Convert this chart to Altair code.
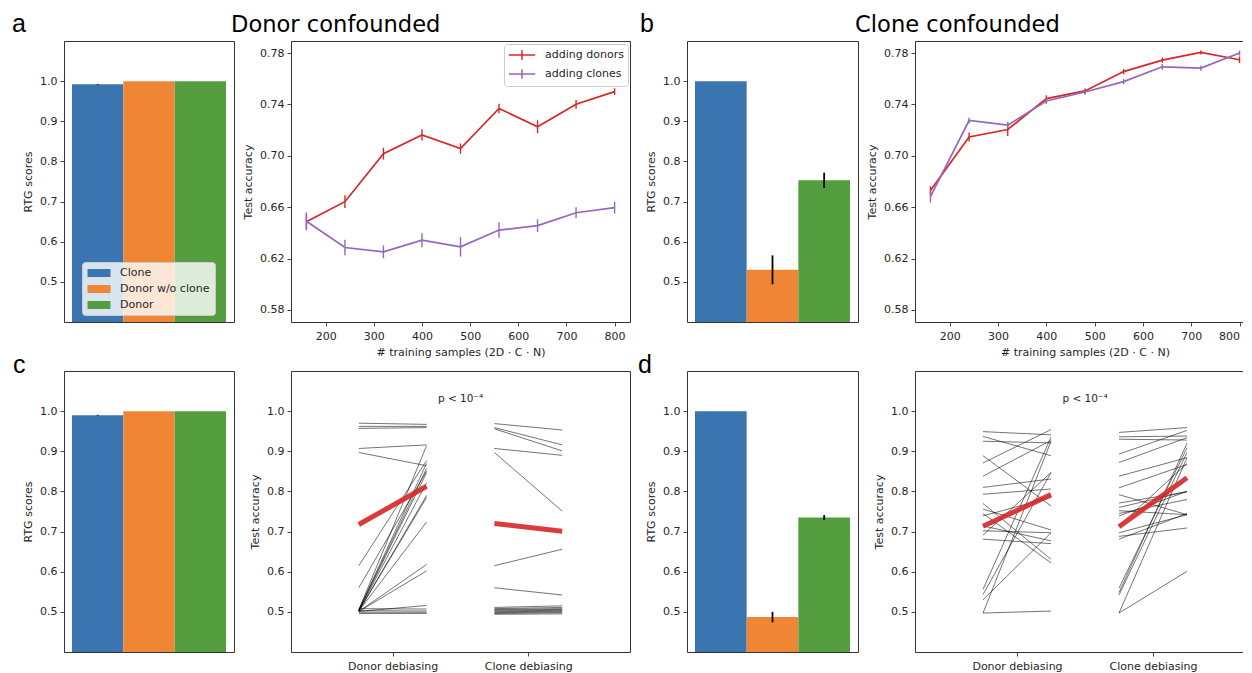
import altair as alt
import pandas as pd

FONT = "DejaVu Sans"
LETTER_FONT = "Liberation Sans"
TXT = "#262626"

# ---------------- bar panels (RTG scores) ----------------
BAR_CATS = ["Clone", "Donor w/o clone", "Donor"]
BAR_COLORS = ["#3b75af", "#ef8636", "#559e3f"]
A_BAR = [0.992, 1.0, 1.0]
A_BAR_ERR = [0.001, 0.0, 0.0]
B_BAR = [1.0, 0.530, 0.753]
B_BAR_ERR = [0.0, 0.036, 0.019]
C_BAR = [0.990, 1.0, 1.0]
C_BAR_ERR = [0.001, 0.0, 0.0]
D_BAR = [1.0, 0.487, 0.735]
D_BAR_ERR = [0.0, 0.013, 0.006]

# ---------------- learning curves ----------------
N_SAMPLES = [160, 240, 320, 400, 480, 560, 640, 720, 800]
SERIES = ["adding donors", "adding clones"]
SERIES_COLORS = ["#d62728", "#9467bd"]
A_DONORS = [0.6487, 0.6643, 0.7017, 0.7163, 0.7056, 0.7369, 0.7226, 0.7401, 0.7500]
A_DONORS_ERR = [0.006, 0.005, 0.0046, 0.0043, 0.004, 0.0037, 0.005, 0.0034, 0.0026]
A_CLONES = [0.6490, 0.6286, 0.6252, 0.6343, 0.6291, 0.6422, 0.6456, 0.6557, 0.6597]
A_CLONES_ERR = [0.007, 0.006, 0.005, 0.0055, 0.0076, 0.006, 0.005, 0.0043, 0.0046]
B_DONORS = [0.6730, 0.7147, 0.7205, 0.7445, 0.7505, 0.7656, 0.7745, 0.7805, 0.7748]
B_DONORS_ERR = [0.0033, 0.0035, 0.005, 0.0026, 0.002, 0.002, 0.002, 0.0016, 0.0026]
B_CLONES = [0.6683, 0.7275, 0.7239, 0.7427, 0.7497, 0.7578, 0.7693, 0.7683, 0.7800]
B_CLONES_ERR = [0.0046, 0.0022, 0.0026, 0.0023, 0.0022, 0.002, 0.0022, 0.002, 0.002]

# ---------------- paired test accuracies ----------------
METHODS = ["Donor debiasing", "Clone debiasing"]
C_DONOR_BEFORE = [0.970, 0.962, 0.957, 0.907, 0.897, 0.615, 0.560, 0.505, 0.505, 0.504, 0.503,
                  0.503, 0.502, 0.502, 0.502, 0.501, 0.501, 0.501, 0.508, 0.503, 0.499, 0.496]
C_DONOR_AFTER = [0.967, 0.962, 0.959, 0.916, 0.864, 0.877, 0.851, 0.914, 0.870, 0.857, 0.847,
                 0.822, 0.790, 0.785, 0.724, 0.618, 0.602, 0.516, 0.507, 0.502, 0.499, 0.496]
C_CLONE_BEFORE = [0.969, 0.959, 0.956, 0.907, 0.897, 0.615, 0.560, 0.511, 0.508, 0.506, 0.504,
                  0.502, 0.500, 0.498, 0.496, 0.494]
C_CLONE_AFTER = [0.953, 0.916, 0.901, 0.890, 0.751, 0.656, 0.542, 0.515, 0.511, 0.508, 0.506,
                 0.504, 0.502, 0.500, 0.498, 0.495]
C_MEAN_BEFORE = [0.7175, 0.720]
C_MEAN_AFTER = [0.813, 0.701]

D_DONOR_BEFORE = [0.949, 0.937, 0.925, 0.889, 0.871, 0.838, 0.810, 0.793, 0.770, 0.756, 0.745,
                  0.739, 0.714, 0.702, 0.691, 0.681, 0.556, 0.543, 0.530, 0.497, 0.497]
D_DONOR_AFTER = [0.941, 0.889, 0.921, 0.764, 0.954, 0.927, 0.831, 0.806, 0.631, 0.704, 0.622,
                 0.785, 0.677, 0.697, 0.847, 0.670, 0.935, 0.847, 0.697, 0.502, 0.925]
D_CLONE_BEFORE = [0.947, 0.936, 0.930, 0.893, 0.872, 0.838, 0.809, 0.792, 0.771, 0.760, 0.752,
                  0.745, 0.739, 0.714, 0.697, 0.688, 0.681, 0.559, 0.548, 0.542, 0.497, 0.497]
D_CLONE_AFTER = [0.959, 0.938, 0.928, 0.952, 0.934, 0.884, 0.867, 0.742, 0.799, 0.800, 0.742,
                 0.780, 0.800, 0.870, 0.742, 0.709, 0.745, 0.909, 0.920, 0.897, 0.884, 0.601]
D_MEAN_BEFORE = [0.713, 0.712]
D_MEAN_AFTER = [0.792, 0.834]

P_LABEL = "p < 10\u207b\u2074"


def letter_title(text, dx, offset):
    return alt.TitleParams(text, anchor="start", frame="group", dx=dx, offset=offset,
                           fontSize=25, font=LETTER_FONT, fontWeight="normal",
                           color="black", baseline="alphabetic")


def bar_panel(vals, errs, letter, dx, offset, show_legend, width):
    df = pd.DataFrame({"cat": BAR_CATS, "score": vals, "err": errs})
    base = alt.Chart(df).transform_calculate(lo="datum.score - datum.err",
                                             hi="datum.score + datum.err")
    x = alt.X("cat:N", sort=BAR_CATS, axis=None,
              scale=alt.Scale(paddingInner=0, paddingOuter=0.155))
    yscale = alt.Scale(domain=[0.4, 1.1], nice=False, zero=False)
    yaxis = alt.Axis(values=[0.5, 0.6, 0.7, 0.8, 0.9, 1.0], format=".1f", title="RTG scores")
    legend = None
    if show_legend:
        legend = alt.Legend(orient="none", legendX=18, legendY=221, title=None,
                            symbolType="M-2,-0.7L2,-0.7L2,0.7L-2,0.7Z", symbolSize=132,
                            symbolStrokeWidth=0, symbolOffset=6, labelOffset=15,
                            labelFont=FONT, labelFontSize=11, labelColor=TXT,
                            fillColor="rgba(255,255,255,0.8)", strokeColor="#cccccc",
                            cornerRadius=3, padding=5, rowPadding=5)
    color = alt.Color("cat:N", sort=BAR_CATS,
                      scale=alt.Scale(domain=BAR_CATS, range=BAR_COLORS), legend=legend)
    bars = base.mark_bar(clip=True).encode(
        x=x, y=alt.Y("score:Q", scale=yscale, axis=yaxis), color=color)
    ebar = base.mark_rule(color="black", strokeWidth=1.8).encode(
        x=x, y=alt.Y("lo:Q", scale=yscale, axis=yaxis), y2="hi:Q")
    return alt.layer(bars, ebar).properties(width=width, height=281,
                                            title=letter_title(letter, dx, offset))


def curve_panel(donors, donors_err, clones, clones_err, title, dx, show_legend, width, flush):
    df = pd.DataFrame({
        "n": N_SAMPLES + N_SAMPLES,
        "series": [SERIES[0]] * len(N_SAMPLES) + [SERIES[1]] * len(N_SAMPLES),
        "acc": donors + clones,
        "err": donors_err + clones_err,
    })
    base = alt.Chart(df).transform_calculate(lo="datum.acc - datum.err",
                                             hi="datum.acc + datum.err")
    xaxis_args = dict(values=[200, 300, 400, 500, 600, 700, 800],
                      title="# training samples (2D \u00b7 C \u00b7 N)")
    if flush:
        xaxis_args["labelFlush"] = 20
    x = alt.X("n:Q", scale=alt.Scale(domain=[128, 832], nice=False, zero=False),
              axis=alt.Axis(**xaxis_args))
    yscale = alt.Scale(domain=[0.5706, 0.7894], nice=False, zero=False)
    yaxis = alt.Axis(values=[0.58, 0.62, 0.66, 0.70, 0.74, 0.78], format=".2f",
                     title="Test accuracy")
    legend = None
    if show_legend:
        legend = alt.Legend(orient="none", legendX=213, legendY=3, title=None,
                            symbolType="M-2.2,0L2.2,0M0,-0.8L0,0.8", symbolSize=144,
                            symbolStrokeWidth=1.5, symbolOffset=7, labelOffset=16,
                            labelFont=FONT, labelFontSize=11, labelColor=TXT,
                            fillColor="rgba(255,255,255,0.8)", strokeColor="#cccccc",
                            cornerRadius=3, padding=4, rowPadding=3)
    color = alt.Color("series:N", sort=SERIES,
                      scale=alt.Scale(domain=SERIES, range=SERIES_COLORS), legend=legend)
    line = base.mark_line(strokeWidth=1.7).encode(
        x=x, y=alt.Y("acc:Q", scale=yscale, axis=yaxis), color=color)
    ebar = base.mark_rule(strokeWidth=1.4).encode(
        x=x, y=alt.Y("lo:Q", scale=yscale, axis=yaxis), y2="hi:Q", color=color)
    t = alt.TitleParams(title, anchor="start", frame="group", dx=dx, offset=-14,
                        fontSize=22.6, font=FONT, fontWeight="normal", color="black",
                        baseline="alphabetic")
    return alt.layer(line, ebar).properties(width=width, height=281, title=t)


def slope_panel(pairs, mean_before, mean_after, width):
    rows = []
    for m, (before, after) in zip(METHODS, pairs):
        for i, (vb, va) in enumerate(zip(before, after)):
            rows.append({"method": m, "line": f"{m}-{i}", "stage": "before", "acc": vb})
            rows.append({"method": m, "line": f"{m}-{i}", "stage": "after", "acc": va})
    df = pd.DataFrame(rows)
    mrows = []
    for m, vb, va in zip(METHODS, mean_before, mean_after):
        mrows.append({"method": m, "line": f"mean-{m}", "stage": "before", "acc": vb})
        mrows.append({"method": m, "line": f"mean-{m}", "stage": "after", "acc": va})
    mdf = pd.DataFrame(mrows)
    pos_expr = ("(datum.method == 'Clone debiasing' ? 1 : 0) + "
                "(datum.stage == 'after' ? 0.25 : -0.25)")
    xscale = alt.Scale(domain=[-0.75, 1.75], nice=False, zero=False)
    xaxis = alt.Axis(values=[0, 1], title=None,
                     labelExpr="datum.value == 0 ? 'Donor debiasing' : 'Clone debiasing'")
    yscale = alt.Scale(domain=[0.4, 1.1], nice=False, zero=False)
    yaxis = alt.Axis(values=[0.5, 0.6, 0.7, 0.8, 0.9, 1.0], format=".1f", title="Test accuracy")
    x = alt.X("pos:Q", scale=xscale, axis=xaxis)
    y = alt.Y("acc:Q", scale=yscale, axis=yaxis)
    thin = alt.Chart(df).transform_calculate(pos=pos_expr).mark_line(
        color="black", strokeWidth=1, opacity=0.55).encode(x=x, y=y, detail="line:N")
    thick = alt.Chart(mdf).transform_calculate(pos=pos_expr).mark_line(
        color="#d62728", strokeWidth=5, opacity=0.9, strokeCap="butt").encode(
        x=x, y=y, detail="line:N")
    ann = alt.Chart(pd.DataFrame({"pos": [0.5], "acc": [1.03], "label": [P_LABEL]})).mark_text(
        font=FONT, fontSize=10.5, color=TXT, baseline="middle", align="center").encode(
        x=x, y=y, text="label:N")
    return alt.layer(thin, thick, ann).properties(width=width, height=281)


a_bar = bar_panel(A_BAR, A_BAR_ERR, "a", -52, -16, True, 170)
a_line = curve_panel(A_DONORS, A_DONORS_ERR, A_CLONES, A_CLONES_ERR, "Donor confounded",
                     -60, True, 339, False)
b_bar = bar_panel(B_BAR, B_BAR_ERR, "b", -47, -16, False, 171)
b_line = curve_panel(B_DONORS, B_DONORS_ERR, B_CLONES, B_CLONES_ERR, "Clone confounded",
                     -60, False, 340, True)
c_bar = bar_panel(C_BAR, C_BAR_ERR, "c", -51, -27, False, 170)
c_slope = slope_panel([(C_DONOR_BEFORE, C_DONOR_AFTER), (C_CLONE_BEFORE, C_CLONE_AFTER)],
                      C_MEAN_BEFORE, C_MEAN_AFTER, 339)
d_bar = bar_panel(D_BAR, D_BAR_ERR, "d", -49, -27, False, 171)
d_slope = slope_panel([(D_DONOR_BEFORE, D_DONOR_AFTER), (D_CLONE_BEFORE, D_CLONE_AFTER)],
                      D_MEAN_BEFORE, D_MEAN_AFTER, 340)

chart = alt.concat(
    a_bar, a_line, b_bar, b_line, c_bar, c_slope, d_bar, d_slope,
    columns=4, spacing={"row": 49, "column": 57}, bounds="flush", align="each",
).resolve_scale(color="independent").properties(
    padding={"left": 3, "top": 3, "right": -13, "bottom": 0}
).configure_view(
    stroke="#333333", strokeWidth=1
).configure_axis(
    labelFont=FONT, labelFontSize=11, labelColor=TXT,
    titleFont=FONT, titleFontSize=11, titleFontWeight="normal", titleColor=TXT,
    tickColor="#333333", tickSize=4, tickWidth=0.9, labelPadding=3,
    domain=False, grid=False, titlePadding=6,
).configure_axisX(
    labelPadding=4, titlePadding=5,
)

chart.save("out.html", embed_options={"renderer": "svg", "actions": False})
